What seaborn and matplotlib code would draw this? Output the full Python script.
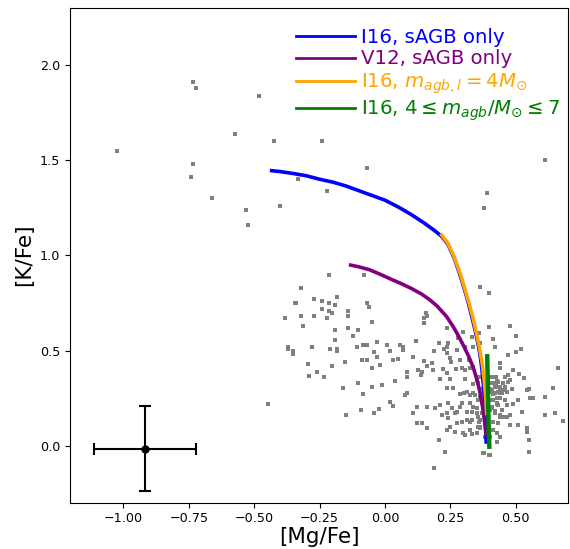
import matplotlib
matplotlib.use("Agg")
import matplotlib.pyplot as plt
import seaborn as sns
import pandas as pd

# ---- observed stars ([Mg/Fe], [K/Fe]) ----
star_mg = [-0.732, -0.722, -0.481, -1.023, -0.573, -0.423, -0.732, -0.742, -0.662, -0.532,
           -0.522, -0.401, -0.332, -0.342, -0.220, -0.070, -0.212, -0.080, -0.242, 0.612,
           -0.446, 0.39, 0.38, -0.37, -0.35,
           -0.321, -0.341, -0.271, -0.242, -0.212, -0.191, -0.182, -0.242, -0.212, -0.201,
           -0.140, -0.140, -0.070, -0.060, -0.382, -0.321, -0.271, -0.220, -0.312, -0.051,
           -0.191, -0.140, -0.102, -0.121, -0.191, -0.372, -0.350, -0.280, -0.210, -0.182,
           -0.182, -0.108, -0.083, -0.070, -0.032, -0.041, 0.009, 0.058, 0.068, 0.070,
           0.019, -0.032, -0.089, -0.070, 0.051, 0.032, -0.019, -0.051, -0.293, -0.261,
           -0.290, -0.232, -0.204, -0.153, -0.102, -0.159, -0.051, -0.083, -0.091, -0.021,
           -0.041, -0.150, -0.011, 0.019, 0.030, 0.077, 0.083, 0.039, 0.086, 0.083,
           0.109, 0.119, 0.149, 0.159, 0.179, 0.188, 0.207, 0.226, 0.236, 0.240,
           0.236, 0.249, 0.253, 0.287, 0.274, 0.300, 0.331, 0.363, 0.399, 0.156,
           0.149, 0.149, 0.159, 0.236, 0.281, 0.361, 0.399, 0.414, 0.478, 0.501,
           0.501, 0.519,
           0.128, 0.140, 0.137, 0.185, 0.221, 0.236, 0.272, 0.293, 0.325, 0.210,
           0.249, 0.236, 0.261, 0.287, 0.302, 0.306, 0.338, 0.351, 0.361, 0.376,
           0.376, 0.402, 0.424, 0.440, 0.491, 0.514, 0.532, 0.469, 0.478, 0.424,
           0.440, 0.414, 0.427, 0.459, 0.484, 0.542, 0.552, 0.554, 0.567, 0.612,
           0.644, 0.663, 0.465, 0.491, 0.510, 0.523, 0.478, 0.453, 0.433, 0.414,
           0.395, 0.338, 0.325, 0.312, 0.287, 0.268, 0.242, 0.210, 0.191, 0.159,
           0.121, 0.109, 0.121, 0.140, 0.159, 0.208, 0.230, 0.189, 0.236, 0.249,
           0.268, 0.300, 0.306, 0.331, 0.354, 0.361, 0.363, 0.380, 0.399, 0.430,
           0.542, 0.542, 0.552, 0.552, 0.612, 0.650, 0.682, 0.510, 0.478, 0.465,
           0.440, 0.427, 0.402, 0.382, 0.370, 0.357, 0.331, 0.312, 0.293, 0.274,
           0.242, 0.236, 0.217, 0.255, 0.274, 0.325, 0.344, 0.363, 0.389, 0.414,
           0.433, 0.446, 0.370, 0.382, 0.351, 0.331, 0.293, 0.357,
           0.40, 0.41, 0.42, 0.43, 0.39, 0.40, 0.41, 0.44, 0.45, 0.46,
           0.42, 0.38, 0.37, 0.43, 0.44,
           0.306, 0.323, 0.338, 0.364, 0.421, 0.440, 0.472, 0.306, 0.338, 0.357,
           0.376, 0.415, 0.434, 0.453, 0.472, 0.312, 0.338, 0.364, 0.408, 0.421,
           0.434, 0.446, 0.459, 0.325, 0.351, 0.364, 0.421, 0.440, 0.465, 0.325,
           0.351, 0.364, 0.415, 0.440, 0.376, 0.402,
           0.383, 0.387, 0.392, 0.395, 0.399, 0.404, 0.408, 0.415, 0.427, 0.427,
           0.440, 0.450, 0.459, 0.468, 0.379, 0.379, 0.387, 0.392, 0.399]
star_k = [1.909, 1.878, 1.839, 1.550, 1.639, 1.599, 1.480, 1.410, 1.300, 1.238,
          1.159, 1.259, 1.401, 0.748, 1.338, 1.459, 0.898, 0.898, 1.601, 1.499,
          0.219, 1.33, 1.25, 0.51, 0.48,
          0.830, 0.748, 0.769, 0.760, 0.748, 0.739, 0.779, 0.718, 0.708, 0.699,
          0.708, 0.681, 0.748, 0.730, 0.669, 0.681, 0.681, 0.669, 0.629, 0.648,
          0.608, 0.620, 0.608, 0.578, 0.555, 0.520, 0.499, 0.520, 0.508, 0.508,
          0.497, 0.520, 0.527, 0.527, 0.546, 0.494, 0.529, 0.529, 0.520, 0.503,
          0.497, 0.468, 0.450, 0.450, 0.455, 0.450, 0.424, 0.406, 0.429, 0.389,
          0.368, 0.359, 0.419, 0.441, 0.328, 0.301, 0.310, 0.270, 0.187, 0.191,
          0.170, 0.159, 0.319, 0.231, 0.208, 0.266, 0.275, 0.342, 0.363, 0.389,
          0.468, 0.550, 0.445, 0.419, 0.433, 0.499, 0.541, 0.506, 0.520, 0.541,
          0.485, 0.459, 0.441, 0.450, 0.503, 0.599, 0.573, 0.832, 0.800, 0.695,
          0.669, 0.646, 0.683, 0.620, 0.564, 0.590, 0.625, 0.559, 0.629, 0.578,
          0.490, 0.508,
          0.398, 0.389, 0.371, 0.398, 0.401, 0.380, 0.401, 0.406, 0.406, 0.349,
          0.349, 0.301, 0.301, 0.272, 0.275, 0.349, 0.324, 0.345, 0.359, 0.345,
          0.380, 0.363, 0.363, 0.406, 0.398, 0.375, 0.357, 0.371, 0.345, 0.328,
          0.275, 0.272, 0.249, 0.293, 0.296, 0.293, 0.296, 0.249, 0.249, 0.258,
          0.301, 0.406, 0.214, 0.222, 0.240, 0.179, 0.161, 0.152, 0.117, 0.126,
          0.144, 0.205, 0.223, 0.179, 0.205, 0.170, 0.223, 0.214, 0.196, 0.205,
          0.205, 0.170, 0.117, 0.121, 0.091, 0.030, -0.031, -0.119, 0.082, 0.100,
          0.074, 0.065, 0.056, 0.060, 0.100, 0.126, 0.091, -0.040, -0.049, 0.018,
          0.091, 0.074, 0.030, -0.031, 0.161, 0.170, 0.130, 0.109, 0.109, 0.152,
          0.161, 0.065, 0.047, 0.047, 0.170, 0.152, 0.135, 0.135, 0.126, 0.117,
          0.144, 0.170, 0.161, 0.196, 0.179, 0.266, 0.266, 0.258, 0.258, 0.240,
          0.214, 0.187, 0.223, 0.196, 0.196, 0.179, 0.223, 0.240,
          0.30, 0.33, 0.31, 0.34, 0.22, 0.19, 0.20, 0.30, 0.33, 0.36,
          0.18, 0.28, 0.30, 0.22, 0.25,
          0.520, 0.450, 0.520, 0.538, 0.520, 0.433, 0.477, 0.398, 0.415, 0.328,
          0.380, 0.363, 0.337, 0.328, 0.337, 0.284, 0.275, 0.240, 0.293, 0.275,
          0.284, 0.275, 0.240, 0.126, 0.170, 0.135, 0.170, 0.153, 0.153, 0.083,
          0.065, 0.100, 0.083, 0.048, -0.040, -0.049,
          0.310, 0.258, 0.205, 0.170, 0.240, 0.284, 0.205, 0.240, 0.223, 0.310,
          0.310, 0.293, 0.310, 0.284, 0.240, 0.170, 0.135, 0.100, 0.065]

# ---- model tracks ----
i16_sagb_mg = [-0.433, -0.40, -0.35, -0.30, -0.25, -0.20, -0.15, -0.10, -0.05, 0.00,
               0.05, 0.10, 0.15, 0.19, 0.217, 0.24, 0.265, 0.29, 0.313, 0.33,
               0.345, 0.356, 0.364, 0.370, 0.375, 0.380, 0.384, 0.386, 0.387]
i16_sagb_k = [1.445, 1.44, 1.43, 1.418, 1.40, 1.385, 1.365, 1.34, 1.315, 1.29,
              1.255, 1.215, 1.17, 1.13, 1.10, 1.06, 0.985, 0.885, 0.78, 0.69,
              0.605, 0.535, 0.475, 0.41, 0.345, 0.25, 0.15, 0.07, 0.02]

v12_sagb_mg = [-0.131, -0.10, -0.06, -0.02, 0.02, 0.06, 0.10, 0.14, 0.172, 0.20,
               0.236, 0.26, 0.28, 0.30, 0.32, 0.338, 0.351, 0.362, 0.371, 0.378,
               0.383, 0.386]
v12_sagb_k = [0.949, 0.94, 0.925, 0.902, 0.877, 0.853, 0.827, 0.797, 0.766, 0.733,
              0.678, 0.628, 0.58, 0.527, 0.47, 0.41, 0.35, 0.29, 0.225, 0.16,
              0.10, 0.06]

i16_m4_mg = [0.217, 0.24, 0.265, 0.29, 0.315, 0.335, 0.35, 0.362, 0.372, 0.379,
             0.385, 0.389]
i16_m4_k = [1.107, 1.065, 0.99, 0.895, 0.78, 0.68, 0.59, 0.51, 0.43, 0.35,
            0.26, 0.17]

i16_m47_mg = [0.391, 0.393, 0.395, 0.397, 0.399]
i16_m47_k = [0.47, 0.35, 0.20, 0.08, -0.005]

# typical uncertainty
err_x, err_y = -0.917, -0.015
err_dx, err_dy = 0.195, 0.225

labels = ["I16, sAGB only", "V12, sAGB only",
          r"I16, $m_{agb,l}=4M_{\odot}$",
          r"I16, $4\leq m_{agb}/M_{\odot}\leq7$"]
colors = ["blue", "purple", "orange", "green"]

fig = plt.figure(figsize=(5.7, 5.49), dpi=100)
ax = fig.add_axes([70 / 570, 46.5 / 549, 498.3 / 570, 494.8 / 549])

stars = pd.DataFrame({"mg": star_mg, "k": star_k})
sns.scatterplot(data=stars, x="mg", y="k", ax=ax, marker="s", s=5,
                color="#808080", linewidth=0, zorder=1)

tracks = [(i16_sagb_mg, i16_sagb_k, 2.6), (v12_sagb_mg, v12_sagb_k, 2.6),
          (i16_m4_mg, i16_m4_k, 2.6), (i16_m47_mg, i16_m47_k, 3.2)]
for (mx, my, lw), lab, col in zip(tracks, labels, colors):
    df = pd.DataFrame({"mg": mx, "k": my})
    sns.lineplot(data=df, x="mg", y="k", ax=ax, sort=False, estimator=None,
                 color=col, lw=lw, label=lab, zorder=3)

ax.errorbar(err_x, err_y, xerr=err_dx, yerr=err_dy, fmt="o", color="black",
            ms=5, capsize=4, elinewidth=1.5, capthick=1.5, zorder=4)

ax.set_xlim(-1.204, 0.701)
ax.set_ylim(-0.298, 2.301)
ax.set_xticks([-1.0, -0.75, -0.5, -0.25, 0.0, 0.25, 0.5])
ax.set_xticklabels(["−1.00", "−0.75", "−0.50", "−0.25", "0.00", "0.25", "0.50"])
ax.set_yticks([0.0, 0.5, 1.0, 1.5, 2.0])
ax.tick_params(labelsize=9.2)
ax.set_xlabel("[Mg/Fe]", fontsize=15.5, labelpad=1)
ax.set_ylabel("[K/Fe]", fontsize=15.5)

leg = ax.legend(loc="upper right", fontsize=14.2, frameon=False,
                handlelength=3.0, labelspacing=0.15, labelcolor="linecolor",
                borderaxespad=0.3, handletextpad=0.3,
                bbox_to_anchor=(1 + 6 / 498.3, 1 - 6 / 494.8))
for ln in leg.get_lines():
    ln.set_linewidth(2)

fig.savefig("out.png", dpi=100)
